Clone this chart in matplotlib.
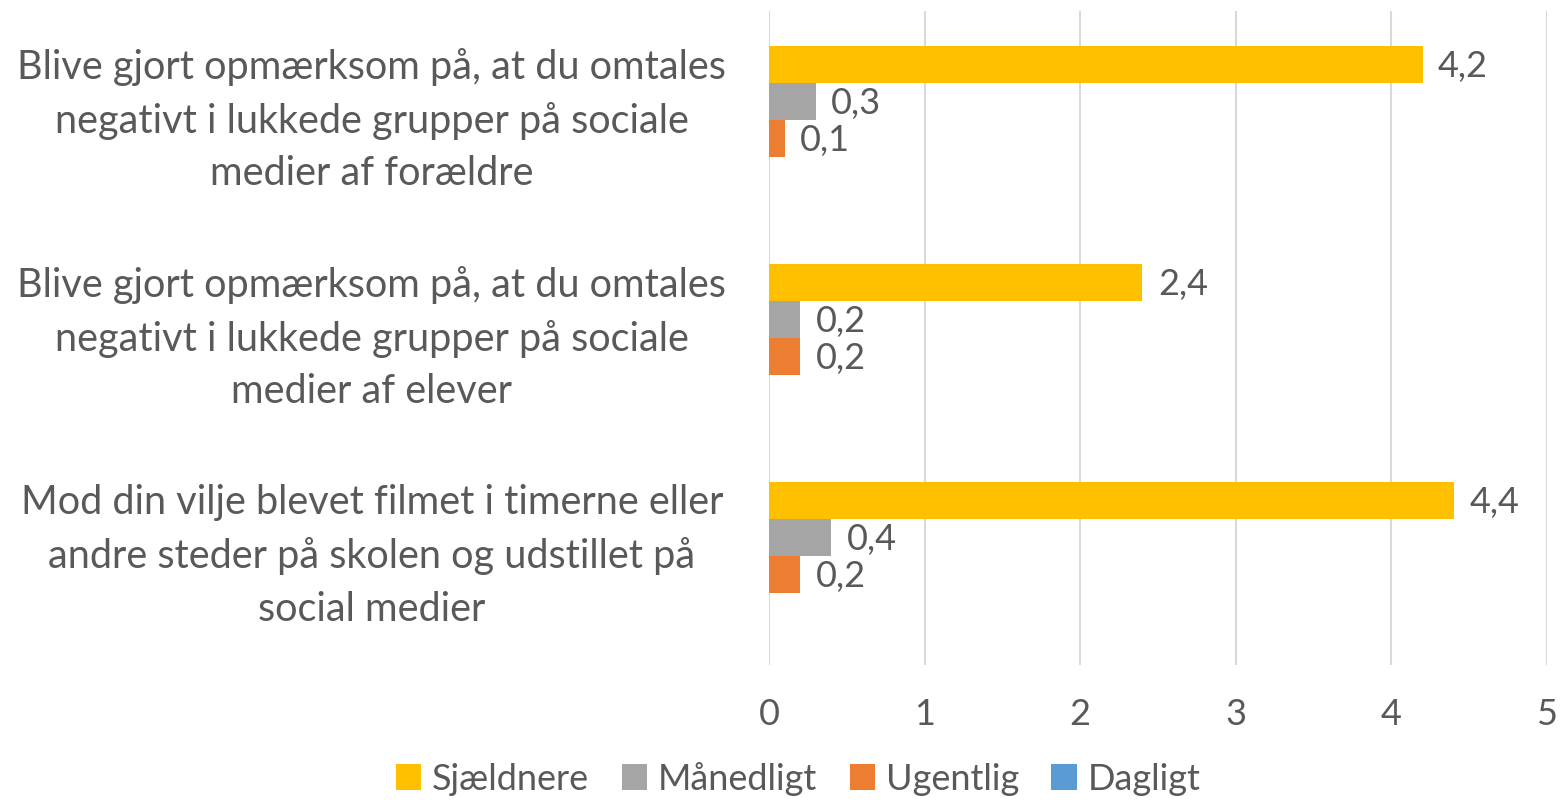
import matplotlib.pyplot as plt
import numpy as np

# data (top to bottom)
categories = ['Blive gjort opmærksom på, at du omtales\nnegativt i lukkede grupper på sociale\nmedier af forældre',
              'Blive gjort opmærksom på, at du omtales\nnegativt i lukkede grupper på sociale\nmedier af elever',
              'Mod din vilje blevet filmet i timerne eller\nandre steder på skolen og udstillet på\nsocial medier']
series = ['Sjældnere', 'Månedligt', 'Ugentlig', 'Dagligt']
sjaeldnere = [4.2, 2.4, 4.4]
maanedligt = [0.3, 0.2, 0.4]
ugentlig = [0.1, 0.2, 0.2]
dagligt = [0, 0, 0]
colors = ['#FFC000', '#A5A5A5', '#ED7D31', '#5B9BD5']

plt.rcParams['font.family'] = ['Lato', 'DejaVu Sans']
txt = '#595959'
fs = 26

fig = plt.figure(figsize=(15.65, 8), dpi=100)
ax = fig.add_axes([769/1565, 1-665/800, (1547-769)/1565, (665-11)/800])

ind = np.arange(len(categories))
h = 0.17
for i, (name, vals) in enumerate(zip(series, [sjaeldnere, maanedligt, ugentlig, dagligt])):
    pos = ind - 0.34 + h/2 + i*h
    ax.barh(pos, vals, height=h, color=colors[i], label=name)
    for p, v in zip(pos, vals):
        if v > 0:
            ax.text(v + 0.1, p + 0.01, ('%.1f' % v).replace('.', ','), va='center', ha='left',
                    fontsize=fs, color=txt)

ax.set_ylim(2.5, -0.5)
ax.set_xlim(0, 5)
ax.set_xticks(range(6))
ax.set_yticks(ind)
ax.set_yticklabels(categories, ha='center', va='center', fontsize=28.5, color=txt, linespacing=1.52)
ax.tick_params(axis='y', length=0, pad=286)
ax.tick_params(axis='x', length=0, pad=24, labelsize=fs, labelcolor=txt)
ax.grid(axis='x', color='#D9D9D9', linewidth=1.5)
ax.set_axisbelow(True)
for s in ax.spines.values():
    s.set_visible(False)

fig.legend(loc='lower center', bbox_to_anchor=(0.51, -0.035), ncol=4, frameon=False,
           fontsize=fs, labelcolor=txt, handlelength=0.7, handleheight=0.7,
           handletextpad=0.3, columnspacing=0.9)

fig.savefig('out.png', dpi=100)
